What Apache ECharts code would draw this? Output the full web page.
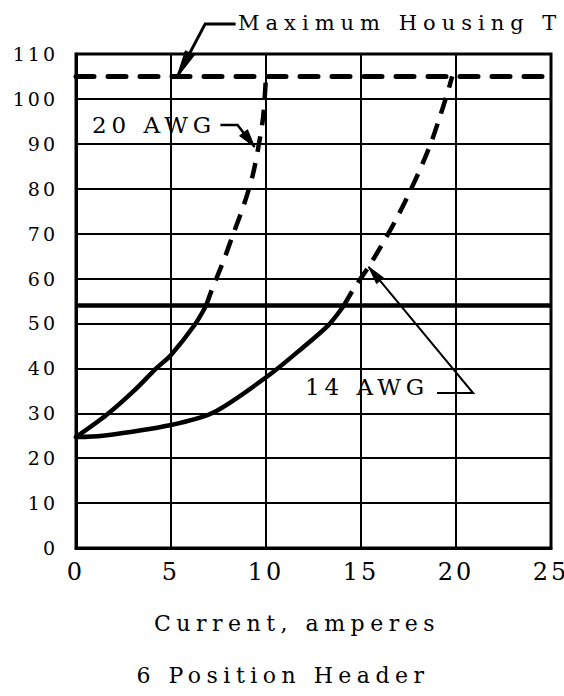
<!DOCTYPE html>
<html><head><meta charset="utf-8">
<script src="https://cdn.jsdelivr.net/npm/echarts@6/dist/echarts.min.js"></script>
<style>
html,body{margin:0;padding:0;background:#fff;overflow:hidden}
#chart{width:564px;height:696px}
#chart text{letter-spacing:3px}
#chart text[style*="19px"]{letter-spacing:3px}
#chart text[style*="24px"]{letter-spacing:3px}
#chart text[style*="22px"]{letter-spacing:5.5px}
#chart text[style*="21px"]{letter-spacing:6px}
#chart text[style*="23px"]{letter-spacing:5px}
</style>
</head><body><div id="chart"></div>
<script>
// ---- data ----
const xTickValues = [0, 5, 10, 15, 20, 25];
const xTickLabels = ['0', '5', '10', '15', '20', '25'];
const yTickValues = [0, 10, 20, 30, 40, 50, 60, 70, 80, 90, 100, 110];
const yTickLabels = ['0', '10', '20', '30', '40', '50', '60', '70', '80', '90', '100', '110'];

const awg20Solid = [[0, 24.7], [1.6, 29.6], [3, 34.8], [4.25, 40.1], [5, 43], [6.25, 49.7], [6.85, 54]];
const awg20Dashed = [[6.85, 54], [7.15, 57.5], [7.75, 63.8], [8.3, 70.2], [8.85, 76.6], [9.3, 83], [9.6, 89.3], [9.85, 96], [10, 105]];
const awg14Solid = [[0, 24.7], [1.4, 25], [5, 27.4], [7.2, 30.1], [10.1, 38.3], [11.9, 44.5], [13.3, 49.7], [14.1, 54]];
const awg14Dashed = [[14.1, 54], [14.6, 57.6], [15.4, 62.6], [16.25, 68.6], [16.95, 74], [17.6, 79.6], [18.2, 85.2], [18.7, 90.4], [19.15, 96], [19.55, 101.3], [19.8, 105]];

const maxHousingTemp = 105;
const referenceLevel = 54;

const maxLabel = 'Maximum Housing T';
const awg20Label = '20 AWG';
const awg14Label = '14 AWG';
const xAxisTitle = 'Current, amperes';
const chartTitle = '6 Position Header';

// annotation anchors in data coordinates
const maxLabelAnchor = [8.53, 116.9];
const awg20LabelAnchor = [0.84, 94.2];
const awg14LabelAnchor = [12.05, 35.85];
const maxLeader = [[8.4, 116.7], [6.8, 116.7], [5.3, 104.7]];
const awg20Leader = [[7.6, 94.2], [8.5, 94.2], [9.4, 89.3]];
const awg14Leader = [[19.0, 34.5], [20.9, 34.5], [15.4, 62.6]];

// ---- chart ----
const FONT = 'DejaVu Serif, serif';
const chart = echarts.init(document.getElementById('chart'), null, {renderer: 'svg', width: 564, height: 696});

const lineBase = {type: 'line', showSymbol: false, symbol: 'none', smooth: 0.3, silent: true, animation: false};

chart.setOption({
  animation: false,
  backgroundColor: '#fff',
  grid: {left: 76, right: 13, top: 54, bottom: 148, show: true, borderColor: '#000', borderWidth: 3, containLabel: false, outerBoundsMode: 'none'},
  xAxis: {
    type: 'value', min: 0, max: 25, interval: 5,
    axisLine: {show: true, onZero: false, lineStyle: {color: '#000', width: 3}},
    axisTick: {show: false},
    splitLine: {show: true, lineStyle: {color: '#000', width: 2}},
    axisLabel: {
      color: '#000', fontFamily: FONT, fontSize: 24, margin: 12,
      formatter: v => { const i = xTickValues.indexOf(v); return i >= 0 ? xTickLabels[i] : ''; }
    }
  },
  yAxis: {
    type: 'value', min: 0, max: 110, interval: 10,
    axisLine: {show: true, onZero: false, lineStyle: {color: '#000', width: 3}},
    axisTick: {show: false},
    splitLine: {show: true, lineStyle: {color: '#000', width: 2}},
    axisLabel: {
      color: '#000', fontFamily: FONT, fontSize: 19, margin: 18,
      formatter: v => { const i = yTickValues.indexOf(v); return i >= 0 ? yTickLabels[i] : ''; }
    }
  },
  series: [
    Object.assign({}, lineBase, {
      name: '20 AWG solid', data: awg20Solid,
      lineStyle: {color: '#000', width: 4.5, cap: 'round'},
      markLine: {
        silent: true, symbol: 'none', label: {show: false}, animation: false,
        data: [
          {yAxis: referenceLevel, lineStyle: {color: '#000', width: 4.5, type: 'solid'}},
          {yAxis: maxHousingTemp, lineStyle: {color: '#000', width: 5, type: [18, 14], cap: 'round'}}
        ]
      }
    }),
    Object.assign({}, lineBase, {
      name: '20 AWG dashed', data: awg20Dashed,
      lineStyle: {color: '#000', width: 4.5, type: [16, 11]}
    }),
    Object.assign({}, lineBase, {
      name: '14 AWG solid', data: awg14Solid,
      lineStyle: {color: '#000', width: 4.5, cap: 'round'}
    }),
    Object.assign({}, lineBase, {
      name: '14 AWG dashed', data: awg14Dashed,
      lineStyle: {color: '#000', width: 4.5, type: [16, 11]}
    })
  ]
});

function px(p) { return chart.convertToPixel({gridIndex: 0}, p); }
function arrowHead(tip, from, len, hw) {
  const dx = tip[0] - from[0], dy = tip[1] - from[1];
  const d = Math.hypot(dx, dy) || 1;
  const ux = dx / d, uy = dy / d;
  const bx = tip[0] - ux * len, by = tip[1] - uy * len;
  return [tip, [bx - uy * hw, by + ux * hw], [bx + uy * hw, by - ux * hw]];
}
function leader(points, width, len, hw) {
  const pts = points.map(px);
  const n = pts.length;
  return [
    {type: 'polyline', silent: true, shape: {points: pts}, style: {stroke: '#000', lineWidth: width, fill: null}},
    {type: 'polygon', silent: true, shape: {points: arrowHead(pts[n - 1], pts[n - 2], len, hw)}, style: {fill: '#000', stroke: '#000', lineWidth: 1}}
  ];
}
function label(text, anchor, size) {
  const p = px(anchor);
  return {type: 'text', silent: true, x: p[0], y: p[1],
    style: {text: text, fill: '#000', font: size + 'px ' + FONT, textAlign: 'left', textVerticalAlign: 'middle'}};
}

const graphics = [].concat(
  leader(maxLeader, 3, 28, 5),
  leader(awg20Leader, 2.5, 18, 5),
  leader(awg14Leader, 2, 18, 4.5),
  [
    label(maxLabel, maxLabelAnchor, 21),
    label(awg20Label, awg20LabelAnchor, 23),
    label(awg14Label, awg14LabelAnchor, 23),
    {type: 'text', silent: true, x: 297, y: 623, style: {text: xAxisTitle, fill: '#000', font: '22px ' + FONT, textAlign: 'center', textVerticalAlign: 'middle'}},
    {type: 'text', silent: true, x: 283, y: 675, style: {text: chartTitle, fill: '#000', font: '22px ' + FONT, textAlign: 'center', textVerticalAlign: 'middle'}}
  ]
);
chart.setOption({graphic: graphics});
</script>
</body></html>
